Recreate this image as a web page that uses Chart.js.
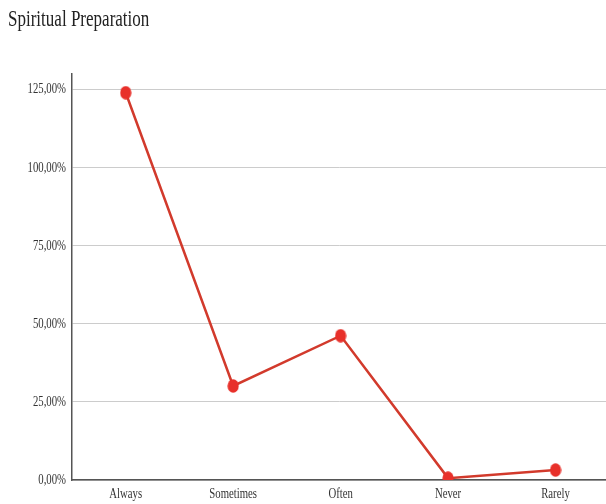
<!DOCTYPE html>
<html>
<head>
<meta charset="utf-8">
<script src="https://cdn.jsdelivr.net/npm/chart.js@4"></script>
<style>
  html, body { margin: 0; padding: 0; background: #fff; overflow: hidden; }
  #wrap { width: 606px; height: 504px; }
</style>
</head>
<body>
<div id="wrap"><canvas id="prepChart"></canvas></div>
<script>
const chartTitle = "Spiritual Preparation";
const categories = ["Always", "Sometimes", "Often", "Never", "Rarely"];
const percentValues = [124, 30.1, 46.2, 0.6, 3.2];
const yTickValues = [0, 25, 50, 75, 100, 125];

const fmtPct = (v) => v.toFixed(2).replace(".", ",") + "%";

// the source image is horizontally squeezed, so text is drawn narrow
const SQUEEZE = 0.74;
function narrowText(ctx, text, x, y, align, size) {
  ctx.save();
  ctx.font = `${size}px "Liberation Serif"`;
  ctx.textAlign = align;
  ctx.textBaseline = "middle";
  ctx.translate(x, y);
  ctx.scale(SQUEEZE, 1);
  ctx.fillText(text, 0, 0);
  ctx.restore();
}

// markers look like slightly tall ellipses in the reference
const dot = document.createElement("canvas");
dot.width = 12;
dot.height = 14;
{
  const d = dot.getContext("2d");
  d.fillStyle = "#e8302a";
  d.beginPath();
  d.ellipse(6, 7, 5.6, 6.8, 0, 0, Math.PI * 2);
  d.fill();
}

const narrowLabels = {
  id: "narrowLabels",
  afterDraw(chart) {
    const { ctx, scales } = chart;
    ctx.fillStyle = "#222";
    narrowText(ctx, chartTitle, 8, 20, "left", 23);

    ctx.fillStyle = "#333";
    scales.y.ticks.forEach((t) => {
      narrowText(ctx, fmtPct(t.value), scales.y.right - 6, scales.y.getPixelForValue(t.value), "right", 14.5);
    });
    categories.forEach((c, i) => {
      narrowText(ctx, c, scales.x.getPixelForValue(i), scales.x.top + 14, "center", 14.5);
    });
  },
};

// the plot runs past the right edge of the picture, so the last slot is cut
new Chart(document.getElementById("prepChart"), {
  type: "line",
  data: {
    datasets: [
      {
        label: chartTitle,
        data: percentValues.map((v, i) => ({ x: i, y: v })),
        borderColor: "#d23a2c",
        backgroundColor: "#e8302a",
        borderWidth: 2.5,
        tension: 0,
        fill: false,
        pointStyle: dot,
        pointRadius: 6,
      },
    ],
  },
  plugins: [narrowLabels],
  options: {
    responsive: true,
    maintainAspectRatio: false,
    animation: false,
    layout: {
      autoPadding: false,
      padding: { left: 8, right: 0, top: 74, bottom: 0 },
    },
    plugins: {
      legend: { display: false },
      tooltip: { enabled: false },
      title: { display: false },
    },
    scales: {
      x: {
        type: "linear",
        min: -0.5,
        max: 4.47,
        grid: { display: false, drawTicks: false },
        border: { display: true, color: "#555", width: 1.5 },
        ticks: { display: false },
        afterFit: (scale) => { scale.height = 24; },
      },
      y: {
        min: 0,
        max: 130,
        afterBuildTicks: (scale) => {
          scale.ticks = yTickValues.map((v) => ({ value: v }));
        },
        grid: { color: "#cccccc", drawTicks: false, lineWidth: 1 },
        border: { display: true, color: "#555", width: 1.5 },
        ticks: { display: false },
        afterFit: (scale) => { scale.width = 64; },
      },
    },
  },
});
</script>
</body>
</html>
